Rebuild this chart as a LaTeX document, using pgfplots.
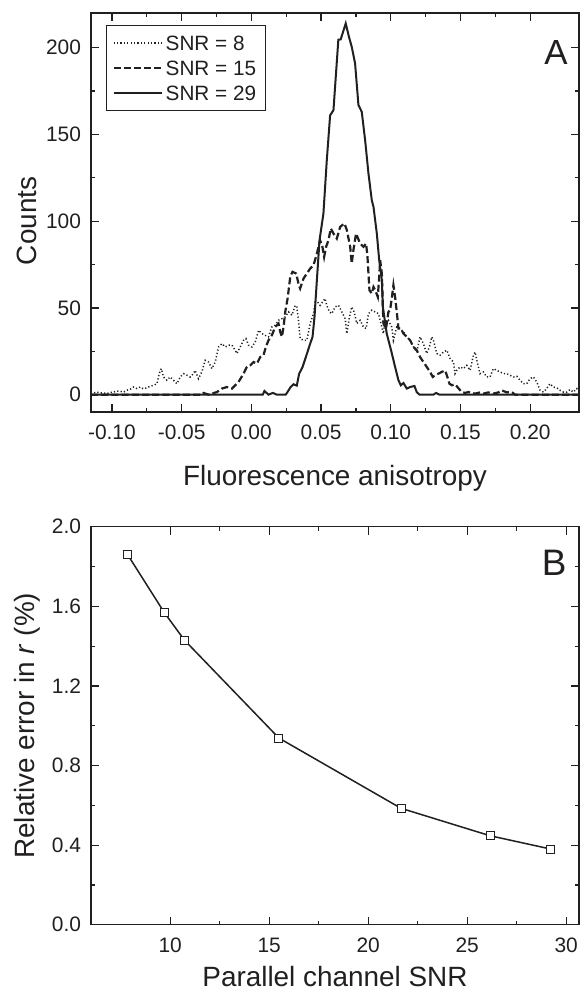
\documentclass[border=0pt]{standalone}
\usepackage{fontspec}
\setmainfont{Liberation Sans}
\usepackage{pgfplots}
\pgfplotsset{compat=1.18}
\definecolor{ink}{rgb}{0.13,0.12,0.12}
\newcommand{\ticksize}{\fontsize{10.5}{12}\selectfont}
\newcommand{\labsize}{\fontsize{14}{16}\selectfont}
\newcommand{\legsize}{\fontsize{10.4}{12}\selectfont}

\pgfplotstableread{
x y
-0.1148 0
-0.1131 1.0
-0.1108 1.5
-0.1084 1.0
-0.1060 1.0
-0.1036 0.6
-0.1012 1.3
-0.0988 1.5
-0.0964 2.1
-0.0940 1.9
-0.0916 1.5
-0.0893 2.5
-0.0869 3.1
-0.0845 4.4
-0.0821 3.5
-0.0797 4.4
-0.0773 3.3
-0.0749 4.0
-0.0725 4.8
-0.0701 5.4
-0.0677 6.3
-0.0661 12.1
-0.0646 15.0
-0.0630 10.2
-0.0606 8.3
-0.0582 10.2
-0.0558 8.3
-0.0534 6.3
-0.0510 10.2
-0.0486 12.1
-0.0462 11.2
-0.0438 10.2
-0.0415 12.1
-0.0403 14.0
-0.0379 9.2
-0.0355 13.1
-0.0331 19.8
-0.0307 18.8
-0.0283 15.0
-0.0259 18.8
-0.0235 27.5
-0.0211 29.4
-0.0187 27.5
-0.0163 28.5
-0.0139 28.5
-0.0116 25.6
-0.0104 23.7
-0.0080 27.5
-0.0056 31.3
-0.0039 32.3
-0.0020 28.5
0.0004 27.5
0.0028 30.4
0.0052 37.1
0.0076 35.2
0.0099 34.2
0.0123 33.3
0.0147 39.0
0.0171 40.0
0.0195 42.9
0.0219 43.8
0.0243 44.8
0.0267 47.7
0.0291 45.8
0.0315 51.5
0.0326 50.6
0.0338 42.9
0.0350 32.3
0.0374 31.3
0.0398 31.3
0.0422 41.0
0.0446 46.7
0.0458 53.5
0.0474 53.5
0.0493 51.5
0.0512 53.5
0.0529 55.4
0.0541 51.5
0.0560 47.7
0.0577 46.7
0.0601 50.6
0.0625 51.5
0.0649 47.7
0.0673 43.8
0.0685 35.2
0.0704 44.8
0.0720 50.6
0.0737 47.7
0.0756 41.0
0.0780 42.9
0.0804 39.0
0.0823 38.1
0.0840 46.7
0.0864 48.7
0.0888 47.7
0.0912 46.7
0.0936 39.0
0.0947 35.2
0.0959 41.9
0.0983 42.9
0.1007 39.0
0.1019 31.3
0.1043 39.0
0.1067 38.1
0.1091 36.2
0.1115 33.3
0.1139 31.3
0.1163 27.5
0.1186 24.6
0.1210 33.3
0.1234 29.4
0.1258 23.7
0.1277 27.5
0.1294 33.3
0.1306 31.3
0.1330 23.7
0.1354 22.7
0.1378 24.6
0.1402 25.6
0.1426 20.8
0.1450 18.8
0.1461 12.1
0.1473 14.0
0.1497 16.0
0.1521 15.0
0.1545 16.9
0.1569 14.0
0.1593 22.7
0.1605 24.6
0.1617 19.8
0.1640 12.1
0.1664 13.1
0.1688 10.2
0.1712 10.2
0.1736 15.0
0.1760 14.0
0.1784 13.1
0.1808 12.1
0.1832 12.1
0.1856 11.2
0.1880 10.2
0.1904 10.6
0.1927 8.3
0.1951 6.3
0.1975 6.3
0.1999 9.2
0.2023 10.2
0.2047 7.3
0.2071 2.5
0.2095 1.5
0.2118 3.5
0.2142 6.3
0.2166 4.4
0.2190 4.0
0.2214 2.5
0.2238 1.5
0.2262 1.5
0.2286 2.9
0.2310 1.5
0.2334 3.5
0.2358 1.5
}\snreight

\pgfplotstableread{
x y
-0.1150 0
-0.0367 0
-0.0343 1.0
-0.0307 0
-0.0247 1.5
-0.0211 3.5
-0.0176 4.4
-0.0139 3.5
-0.0116 5.4
-0.0092 7.3
-0.0056 12.1
-0.0032 16.0
-0.0008 16.9
0.0016 18.8
0.0040 17.9
0.0064 21.7
0.0087 22.7
0.0104 27.5
0.0123 31.3
0.0147 34.2
0.0171 39.0
0.0195 41.0
0.0207 36.2
0.0219 33.3
0.0231 39.0
0.0243 47.7
0.0260 55.4
0.0279 67.9
0.0295 70.8
0.0322 69.8
0.0338 64.0
0.0350 61.2
0.0374 66.9
0.0398 69.8
0.0422 72.7
0.0446 74.6
0.0470 81.3
0.0493 89.0
0.0510 85.2
0.0522 79.4
0.0536 85.2
0.0553 89.0
0.0570 95.8
0.0589 92.9
0.0613 90.0
0.0637 96.7
0.0668 98.7
0.0685 94.8
0.0709 85.2
0.0720 75.6
0.0732 83.3
0.0751 92.9
0.0780 87.1
0.0804 85.2
0.0823 87.1
0.0833 79.4
0.0847 60.2
0.0864 58.3
0.0876 62.1
0.0889 60.2
0.0907 56.3
0.0917 67.9
0.0924 77.5
0.0936 69.8
0.0947 41.0
0.0966 38.1
0.0983 47.7
0.0995 48.7
0.1007 55.4
0.1019 63.1
0.1031 56.3
0.1043 47.7
0.1055 38.1
0.1072 38.1
0.1091 35.2
0.1115 33.3
0.1139 31.3
0.1163 27.5
0.1186 25.6
0.1210 21.7
0.1234 18.8
0.1258 16.0
0.1282 13.1
0.1301 10.2
0.1318 11.2
0.1342 12.1
0.1366 13.1
0.1390 14.0
0.1402 11.2
0.1421 6.3
0.1438 5.4
0.1461 6.0
0.1478 4.4
0.1509 1.5
0.1533 1.0
0.1557 1.5
0.1581 1.0
0.1605 0.6
0.1640 1.3
0.1664 0.6
0.1700 1.3
0.1736 0.6
0.1772 1.3
0.1796 2.5
0.1832 1.3
0.1868 1.5
0.1892 0
0.2360 0
}\snrfifteen

\pgfplotstableread{
x y
-0.1150 0
0.0082 0
0.0094 2.1
0.0123 0
0.0154 1.0
0.0183 0
0.0247 0
0.0282 4.4
0.0302 6.0
0.0326 5.2
0.0343 12.1
0.0367 15.9
0.0391 21.7
0.0422 29.4
0.0439 33.3
0.0453 44.8
0.0470 66.0
0.0489 89.0
0.0517 104.4
0.0541 135.0
0.0565 161.0
0.0589 164.0
0.0624 204.6
0.0641 204.8
0.0677 214.0
0.0700 206.3
0.0720 200.5
0.0744 191.0
0.0768 167.0
0.0792 163.0
0.0816 146.7
0.0840 127.5
0.0864 112.0
0.0876 108.3
0.0900 92.9
0.0917 77.5
0.0936 66.0
0.0943 50.6
0.0971 35.2
0.1002 25.6
0.1031 16.0
0.1055 8.3
0.1072 5.4
0.1091 6.7
0.1115 3.5
0.1139 4.4
0.1170 5.0
0.1186 1.5
0.1205 0
0.1306 0
0.1325 1.0
0.1349 0
0.2360 0
}\snrtwentynine

\pgfplotstableread{
x y
7.86 1.858
9.70 1.569
10.72 1.430
15.49 0.938
21.66 0.585
26.16 0.447
29.23 0.380
}\relerr

\begin{document}
\begin{tikzpicture}
\path[use as bounding box] (0,0) rectangle (290bp,-497bp);
\pgfplotsset{
  common/.style={
    scale only axis, width=244bp, height=199.5bp,
    axis line style={ink, line width=0.75bp},
    tick style={ink, line width=0.6bp},
    major tick length=4bp, minor tick length=2bp,
    tick align=inside,
    minor tick num=1,
    /pgf/number format/assume math mode=true,
    ticklabel style={font=\ticksize, text=ink},
    label style={font=\labsize, text=ink},
    xticklabel style={yshift=-3bp},
    yticklabel style={xshift=-1.5bp},
  }
}
\begin{axis}[common, at={(45.5bp,-6.5bp)}, anchor=north west,
  xmin=-0.115, xmax=0.235, ymin=-10, ymax=220,
  xtick={-0.1,-0.05,0,0.05,0.1,0.15,0.2},
  ytick={0,50,100,150,200},
  xticklabel style={/pgf/number format/.cd, fixed, fixed zerofill, precision=2},
  xlabel={Fluorescence anisotropy},
  ylabel={Counts},
  xlabel style={at={(axis description cs:0.5,-0.165)}, anchor=center},
  ylabel style={at={(axis description cs:-0.131,0.479)}, anchor=center},
  legend style={at={(axis description cs:0,1)}, anchor=north west,
    xshift=7.5bp, yshift=-6bp, draw=ink, line width=0.5bp,
    font=\legsize, text=ink,
    inner xsep=3bp, inner ysep=3.5bp, row sep=2bp,
    nodes={inner sep=1.5bp, text height=7.5bp, text depth=0pt}},
  legend cell align=left,
  legend image code/.code={\draw[#1] (0bp,0bp) -- (24bp,0bp);},
]
\addplot[ink, line width=0.75bp, dash pattern=on 0.6bp off 1.1bp] table {\snreight};
\addlegendentry{SNR = 8}
\addplot[ink, line width=1.1bp, dash pattern=on 3.5bp off 1.6bp] table {\snrfifteen};
\addlegendentry{SNR = 15}
\addplot[ink, line width=1bp] table {\snrtwentynine};
\addlegendentry{SNR = 29}
\node[text=ink, inner sep=0pt, font=\fontsize{17.5}{20}\selectfont] at (rel axis cs:0.953,0.9) {A};
\end{axis}

\begin{axis}[common, at={(45.5bp,-263.35bp)}, anchor=north west,
  height=199bp,
  xmin=6, xmax=30.65, ymin=0, ymax=2.0,
  xtick={10,15,20,25,30},
  ytick={0,0.4,0.8,1.2,1.6,2.0},
  yticklabel style={/pgf/number format/.cd, fixed, fixed zerofill, precision=1},
  xlabel={Parallel channel SNR},
  ylabel={Relative error in \textit{r} (\%)},
  xlabel style={at={(axis description cs:0.5,-0.131)}, anchor=center},
  ylabel style={at={(axis description cs:-0.131,0.5)}, anchor=center},
]
\addplot[ink, line width=0.75bp, mark=square*, mark size=2bp,
  mark options={fill=white, draw=ink, line width=0.5bp}] table {\relerr};
\node[text=ink, inner sep=0pt, font=\fontsize{18.5}{21}\selectfont] at (rel axis cs:0.949,0.91) {B};
\end{axis}
\end{tikzpicture}
\end{document}
